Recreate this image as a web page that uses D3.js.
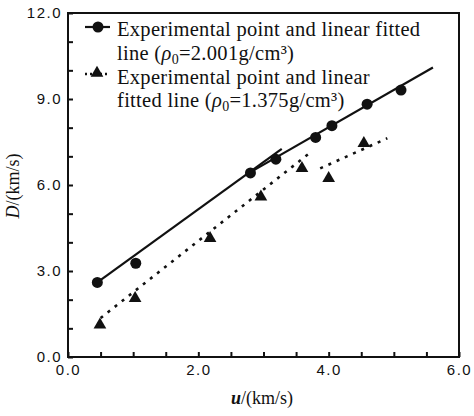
<!DOCTYPE html>
<html>
<head>
<meta charset="utf-8">
<script src="https://cdn.jsdelivr.net/npm/d3@7"></script>
<style>
  body { margin: 0; background: #fff; }
  .tick text { font-family: "Liberation Sans", Arial, sans-serif; font-size: 15px; letter-spacing: 1.5px; fill: #111; }
  .legend text, .title { font-family: "Liberation Serif", "Times New Roman", serif; fill: #111; }
</style>
</head>
<body>
<div id="chart"></div>
<script>
// experimental points, rho0 = 2.001 g/cm3
var circleU = [0.45, 1.04, 2.80, 3.19, 3.80, 4.05, 4.59, 5.11];
var circleD = [2.60, 3.27, 6.42, 6.90, 7.66, 8.07, 8.82, 9.31];
// experimental points, rho0 = 1.375 g/cm3
var triU = [0.49, 1.03, 2.18, 2.96, 3.59, 4.00, 4.54];
var triD = [1.12, 2.05, 4.14, 5.59, 6.58, 6.23, 7.45];
// fitted line pieces (end points)
var solidU1 = [0.45, 3.28], solidD1 = [2.60, 7.26];
var solidU2 = [2.80, 5.60], solidD2 = [6.45, 10.10];
var dotU1 = [0.50, 3.70], dotD1 = [1.36, 7.10];
var dotU2 = [3.87, 4.90], dotD2 = [6.58, 7.63];
// axis ticks
var xMajor = [0, 2, 4, 6];
var xMinor = [0, 0.5, 1, 1.5, 2, 2.5, 3, 3.5, 4, 4.5, 5, 5.5, 6];
var yMajor = [0, 3, 6, 9, 12];
var yMinor = [0, 1, 2, 3, 4, 5, 6, 7, 8, 9, 10, 11, 12];

var margin = { top: 13, right: 15, bottom: 59, left: 68 };
var width = 474 - margin.left - margin.right,
    height = 416 - margin.top - margin.bottom;

var svg = d3.select("#chart").append("svg")
    .attr("width", 474)
    .attr("height", 416);

var g = svg.append("g")
    .attr("transform", "translate(" + margin.left + "," + margin.top + ")");

var x = d3.scaleLinear().domain([0, 6]).range([0, width]);
var y = d3.scaleLinear().domain([0, 12]).range([height, 0]);

var fmt = function (d) { return xMajor.indexOf(d) >= 0 ? d3.format(".1f")(d) : ""; };
var fmtY = function (d) { return yMajor.indexOf(d) >= 0 ? d3.format(".1f")(d) : ""; };

//ticks point inward
var xAxis = d3.axisBottom(x).tickValues(xMinor).tickFormat(fmt)
    .tickSizeInner(-5).tickSizeOuter(0).tickPadding(7);
var yAxis = d3.axisLeft(y).tickValues(yMinor).tickFormat(fmtY)
    .tickSizeInner(-5).tickSizeOuter(0).tickPadding(6);

g.append("g").attr("transform", "translate(0," + height + ")").call(xAxis);
g.append("g").call(yAxis);
g.selectAll(".domain").remove();
g.selectAll(".tick line").attr("stroke", "#111").attr("stroke-width", 2);

// frame
g.append("rect")
    .attr("width", width).attr("height", height)
    .attr("fill", "none").attr("stroke", "#111").attr("stroke-width", 2);

var line = d3.line()
    .x(function (d) { return x(d[0]); })
    .y(function (d) { return y(d[1]); });

function pairs(us, ds) { return us.map(function (u, i) { return [u, ds[i]]; }); }

[pairs(solidU1, solidD1), pairs(solidU2, solidD2)].forEach(function (p) {
    g.append("path").datum(p).attr("d", line)
        .attr("fill", "none").attr("stroke", "#111").attr("stroke-width", 2.2);
});
[pairs(dotU1, dotD1), pairs(dotU2, dotD2)].forEach(function (p) {
    g.append("path").datum(p).attr("d", line)
        .attr("fill", "none").attr("stroke", "#111").attr("stroke-width", 2.6)
        .attr("stroke-dasharray", "3,6");
});

g.selectAll(".circ")
    .data(pairs(circleU, circleD))
    .enter().append("circle")
    .attr("cx", function (d) { return x(d[0]); })
    .attr("cy", function (d) { return y(d[1]); })
    .attr("r", 5.5)
    .attr("fill", "#111");

var tri = d3.symbol().type(d3.symbolTriangle).size(70);
g.selectAll(".tri")
    .data(pairs(triU, triD))
    .enter().append("path")
    .attr("d", tri)
    .attr("transform", function (d) { return "translate(" + x(d[0]) + "," + y(d[1]) + ")"; })
    .attr("fill", "#111");

// legend
var leg = svg.append("g").attr("class", "legend");
leg.append("line").attr("x1", 85).attr("x2", 110).attr("y1", 27).attr("y2", 27)
    .attr("stroke", "#111").attr("stroke-width", 2.2);
leg.append("circle").attr("cx", 98).attr("cy", 27).attr("r", 5.5).attr("fill", "#111");
leg.append("line").attr("x1", 85).attr("x2", 110).attr("y1", 74).attr("y2", 74)
    .attr("stroke", "#111").attr("stroke-width", 2.4).attr("stroke-dasharray", "2,3");
leg.append("path").attr("d", tri).attr("transform", "translate(97,73)").attr("fill", "#111");

var legLines = [
    { y: 36, parts: [["Experimental point and linear fitted"]] },
    { y: 60, parts: [["line ("], ["ρ", "i"], ["0", "sub"], ["=2.001g/cm³)"]] },
    { y: 84, parts: [["Experimental point and linear"]] },
    { y: 107, parts: [["fitted line ("], ["ρ", "i"], ["0", "sub"], ["=1.375g/cm³)"]] }
];
legLines.forEach(function (l) {
    var t = leg.append("text").attr("x", 117).attr("y", l.y)
        .attr("font-size", 20.5).attr("letter-spacing", 0.3);
    l.parts.forEach(function (p) {
        var s = t.append("tspan").text(p[0]);
        if (p[1] === "i") s.attr("font-style", "italic");
        if (p[1] === "sub") s.attr("font-size", 14).attr("dy", 4);
        if (p[0].charAt(0) === "=") s.attr("dy", -4);
    });
});

// axis titles
var xt = svg.append("text").attr("class", "title")
    .attr("x", 262).attr("y", 404).attr("text-anchor", "middle").attr("font-size", 18);
xt.append("tspan").attr("font-style", "italic").attr("font-weight", "bold").text("u");
xt.append("tspan").text("/(km/s)");

var yt = svg.append("text").attr("class", "title")
    .attr("transform", "translate(19,186) rotate(-90)")
    .attr("text-anchor", "middle").attr("font-size", 18);
yt.append("tspan").attr("font-style", "italic").text("D");
yt.append("tspan").text("/(km/s)");
</script>
</body>
</html>
